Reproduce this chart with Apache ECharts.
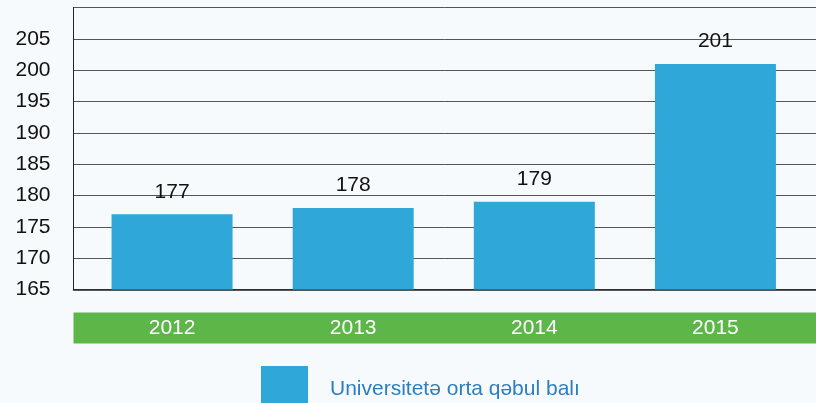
<!DOCTYPE html>
<html>
<head>
<meta charset="utf-8">
<script src="https://cdn.jsdelivr.net/npm/echarts@6/dist/echarts.min.js"></script>
<style>
  html, body { margin: 0; padding: 0; background: #f7fafd; }
  #main { width: 816px; height: 403px; }
</style>
</head>
<body>
<div id="main"></div>
<script>
// data
var years = ["2012", "2013", "2014", "2015"];
var scores = [177, 178, 179, 201];
var seriesName = "Universitetə orta qəbul balı";

var font = "Liberation Sans, Arial, sans-serif";
var myChart = echarts.init(document.getElementById("main"));

var option = {
  backgroundColor: "#f7fafd",
  animation: false,
  textStyle: { fontFamily: font },
  // green strip behind the year labels
  graphic: [
    {
      type: "rect",
      z: 0,
      shape: { x: 73.5, y: 312.5, width: 743, height: 31 },
      style: { fill: "#5cb748" }
    }
  ],
  legend: {
    left: 256,
    top: 361,
    itemWidth: 47,
    itemHeight: 47,
    icon: "rect",
    data: [seriesName],
    textStyle: {
      color: "#2b7fc1",
      fontSize: 21,
      fontFamily: font,
      padding: [0, 0, 0, 17]
    }
  },
  grid: [
    // frame, gridlines and y axis
    { left: 73.5, right: 0, top: 7.5, bottom: 113.5 },
    // bars
    { left: 81.5, right: 10, top: 7.5, bottom: 113.5 }
  ],
  xAxis: [
    {
      gridIndex: 0,
      type: "category",
      data: years,
      axisLine: { show: true, lineStyle: { color: "#222", width: 1.5 } },
      axisTick: { show: false },
      axisLabel: { show: false }
    },
    {
      gridIndex: 1,
      type: "category",
      data: years,
      axisLine: { show: false },
      axisTick: { show: false },
      axisLabel: {
        color: "#ffffff",
        fontSize: 21,
        fontFamily: font,
        margin: 28
      }
    }
  ],
  yAxis: [
    {
      gridIndex: 0,
      type: "value",
      min: 165,
      max: 210,
      interval: 5,
      axisLine: { show: true, lineStyle: { color: "#222", width: 1 } },
      axisTick: { show: false },
      axisLabel: {
        color: "#111",
        fontSize: 21,
        fontFamily: font,
        margin: 23,
        showMaxLabel: false
      },
      splitLine: { show: true, lineStyle: { color: "#555", width: 1 } }
    },
    {
      gridIndex: 1,
      type: "value",
      min: 165,
      max: 210,
      interval: 5,
      show: false
    }
  ],
  series: [
    {
      name: seriesName,
      type: "bar",
      xAxisIndex: 1,
      yAxisIndex: 1,
      data: scores,
      barWidth: 121,
      itemStyle: { color: "#2fa7d9" },
      label: {
        show: true,
        position: "top",
        distance: 12,
        color: "#111",
        fontSize: 21,
        fontFamily: font
      },
      z: 3
    }
  ]
};

myChart.setOption(option);
</script>
</body>
</html>
